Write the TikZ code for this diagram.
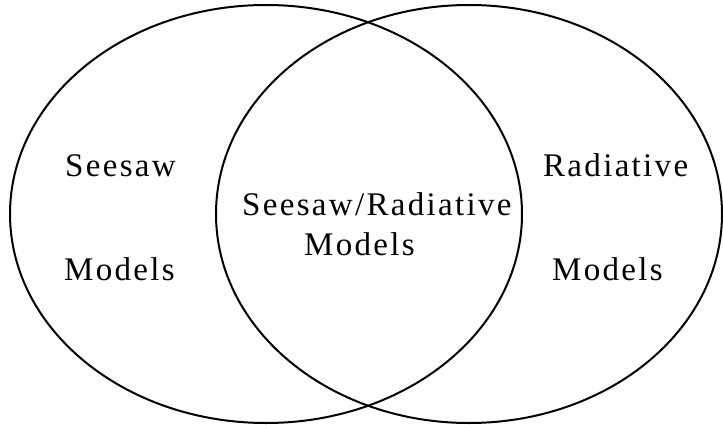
\documentclass[tikz,border=0pt]{standalone}
\usepackage{fontspec}
\setmainfont[LetterSpace=7]{Liberation Serif}

\begin{document}
\begin{tikzpicture}[x=1pt, y=-1pt, line cap=round, line join=round,
		label/.style={anchor=base west, inner sep=0pt, font=\fontsize{33}{39}\selectfont}]
			\useasboundingbox (0,0) rectangle (723,425);
			% ellipses
			\draw[line width=2pt] (266,214) ellipse [x radius=256pt, y radius=209pt];
			\draw[line width=2pt] (469,214) ellipse [x radius=253pt, y radius=209pt];
			% seesaw side
			\node[label] (seesawtop) at (65,176) {Seesaw};
			\node[label] (seesawbot) at (64,280) {Models};
			% overlap
			\node[label] (mixtop) at (242,215) {Seesaw/Radiative};
			\node[label] (mixbot) at (304,255) {Models};
			% radiative side
			\node[label] (radtop) at (543,176) {Radiative};
			\node[label] (radbot) at (552,280) {Models};
		\end{tikzpicture}
\end{document}
